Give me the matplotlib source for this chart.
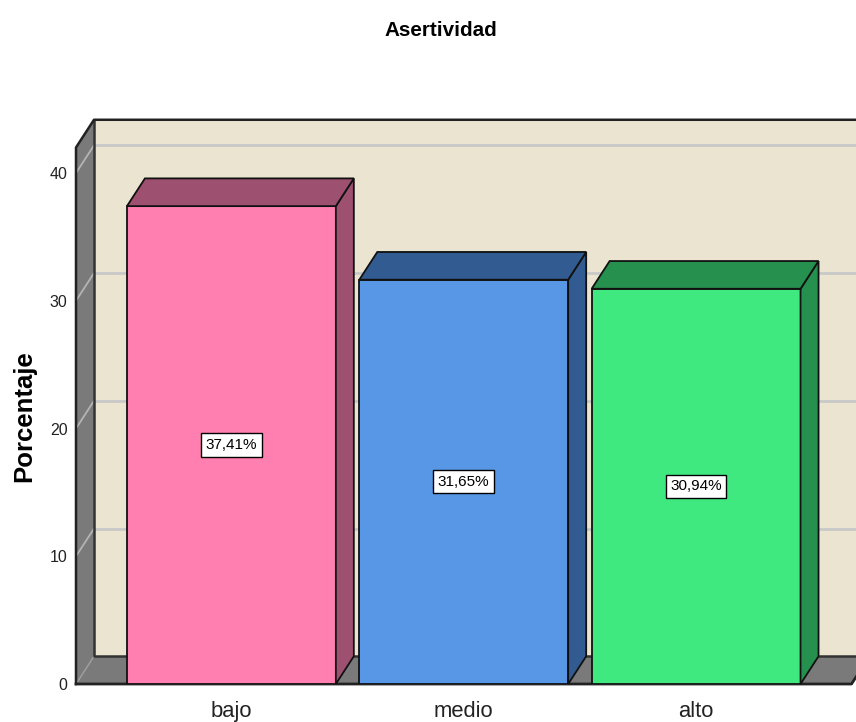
import numpy as np
import matplotlib.pyplot as plt
from matplotlib.patches import Polygon, Rectangle

# Asertividad - porcentaje por nivel
categorias = ['bajo', 'medio', 'alto']
porcentajes = [37.41, 31.65, 30.94]
etiquetas = ['37,41%', '31,65%', '30,94%']
yticks = [0, 10, 20, 30, 40]

frente = ['#FF80B0', '#5896E6', '#40E880']
lado = ['#9E5070', '#325C91', '#26914F']

fuente = ['Liberation Sans', 'DejaVu Sans']

fig = plt.figure(figsize=(8.56, 7.22), dpi=100)
ax = fig.add_axes([76 / 856, 38 / 722, 780 / 856, 565 / 722])

x = np.arange(len(categorias))
ancho = 0.899
dx, dy = 0.0774, 2.17      # desplazamiento de profundidad
x0, x1 = -0.6688, 2.6688   # borde frontal del suelo
ymax = 42

ax.set_xlim(-0.6688, 2.6882)
ax.set_ylim(0, 44.23)
for s in ax.spines.values():
    s.set_visible(False)

gris = '#7A7A7A'
# pared del fondo
ax.add_patch(Rectangle((x0 + dx, dy), x1 - x0 + 0.2, ymax, fc='#EAE4D0', ec='none',
                       clip_on=False, zorder=0))
for t in yticks[1:]:
    ax.plot([x0 + dx, x1 + dx + 0.2], [t + dy, t + dy], color='#C8C8C8', lw=2,
            clip_on=False, zorder=0.5)
# pared izquierda
ax.add_patch(Polygon([(x0, 0), (x0, ymax), (x0 + dx, ymax + dy), (x0 + dx, dy)],
                     closed=True, fc=gris, ec='none', clip_on=False, zorder=1))
for t in yticks[1:]:
    ax.plot([x0, x0 + dx], [t, t + dy], color='#B4B4B4', lw=1.3, clip_on=False, zorder=1.2)
# suelo
ax.add_patch(Polygon([(x0, 0), (x1, 0), (x1 + dx, dy), (x0 + dx, dy)],
                     closed=True, fc=gris, ec='none', clip_on=False, zorder=1))
ax.plot([x0, x0 + dx], [0, dy], color='#A0A0A0', lw=1, clip_on=False, zorder=1.2)
# aristas
ax.plot([x0 + dx, x0 + dx, x1 + dx + 0.2], [ymax + dy, dy, dy], color='#333333', lw=1.8,
        clip_on=False, zorder=1.3)
ax.plot([x0, x0, x0 + dx, x1 + dx + 0.2], [0, ymax, ymax + dy, ymax + dy], color='#222222',
        lw=1.8, clip_on=False, zorder=1.3)
ax.plot([x0, x1, x1 + dx], [0, 0, dy], color='#222222', lw=2, clip_on=False, zorder=1.3)

# barras en 3D
for xi, v, cf, cl, et in zip(x, porcentajes, frente, lado, etiquetas):
    izq, der = xi - ancho / 2, xi + ancho / 2
    ax.bar(xi, v, width=ancho, color=cf, edgecolor='#111111', linewidth=1.3, zorder=3)
    ax.add_patch(Polygon([(der, 0), (der, v), (der + dx, v + dy), (der + dx, dy)],
                         closed=True, fc=cl, ec='#111111', lw=1.3, clip_on=False, zorder=3))
    ax.add_patch(Polygon([(izq, v), (der, v), (der + dx, v + dy), (izq + dx, v + dy)],
                         closed=True, fc=cl, ec='#111111', lw=1.3, clip_on=False, zorder=3))
    ax.text(xi, v / 2, et, ha='center', va='center', fontsize=11, family=fuente, zorder=4,
            bbox=dict(boxstyle='square,pad=0.3', fc='white', ec='black', lw=1))

ax.set_yticks(yticks)
ax.set_yticklabels([str(t) for t in yticks], fontsize=11.5, family=fuente)
ax.set_xticks(x)
ax.set_xticklabels(categorias, fontsize=15.8, family=fuente)
ax.tick_params(axis='y', length=0, pad=6, colors='#222222')
ax.tick_params(axis='x', length=0, pad=12, colors='#222222')

fig.text(24 / 856, 1 - 416 / 722, 'Porcentaje', rotation=90, ha='center', va='center',
         fontsize=18.5, fontweight='bold', family=fuente)
fig.text(441 / 856, 1 - 30 / 722, 'Asertividad', ha='center', va='center', fontsize=14.9,
         fontweight='bold', family=fuente)

fig.savefig('out.png', dpi=100)
